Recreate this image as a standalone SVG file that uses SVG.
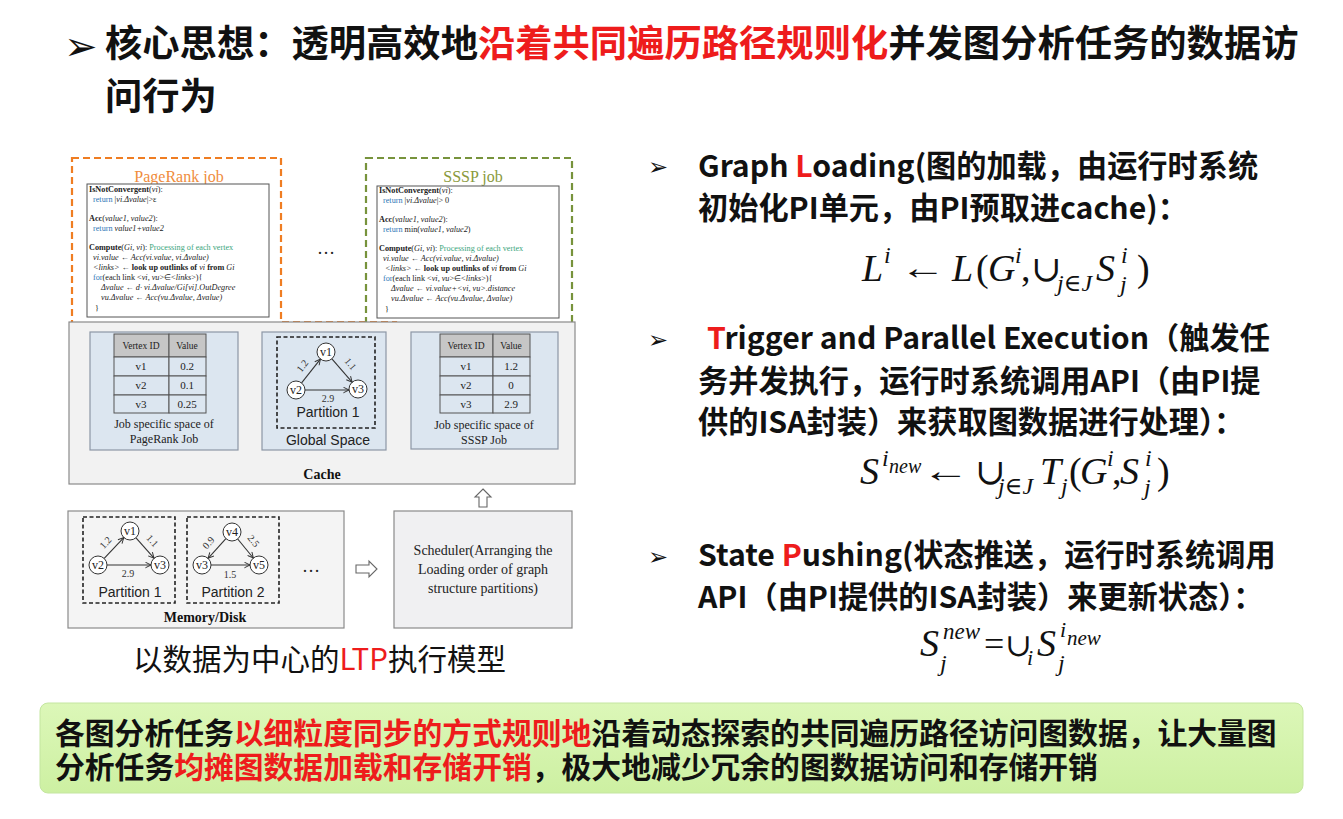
<svg xmlns="http://www.w3.org/2000/svg" width="1343" height="819" viewBox="0 0 1343 819">
  <defs>
    <style>
      .cjk { font-family: "Noto Sans CJK SC", "Noto Sans", sans-serif; }
      .title { font-size: 37.3px; font-weight: 700; fill: #111; }
      .rt { font-size: 30.2px; font-weight: 700; fill: #111; }
      .bt { font-size: 29.8px; font-weight: 700; fill: #111; }
      .red { fill: #ee1c1c; }
      .bul { font-family: "DejaVu Sans", sans-serif; fill: #111; }
      .serif { font-family: "Liberation Serif", "DejaVu Serif", serif; }
      .sans { font-family: "Liberation Sans", "Noto Sans", sans-serif; }
      .code { font-family: "Liberation Serif", serif; font-size: 8.2px; fill: #222; }
      .b { font-weight: 700; }
      .i { font-style: italic; }
      .blue { fill: #2e75b6; }
      .cm { fill: #3aa57c; }
      .math { font-family: "Liberation Serif", "DejaVu Serif", serif; fill: #111; }
      .mi { font-style: italic; }
      .dashO { fill: none; stroke: #ef7d22; stroke-width: 2.2; stroke-dasharray: 7 4; }
      .dashG { fill: none; stroke: #77933c; stroke-width: 2.2; stroke-dasharray: 7 4; }
      .dashK { fill: none; stroke: #222; stroke-width: 1.6; stroke-dasharray: 4 2.5; }
      .panel { fill: #dce6f0; stroke: #8c97a6; stroke-width: 1.2; }
      .node circle { fill: #fff; stroke: #333; stroke-width: 1; }
      .node text { font-family: "Liberation Serif", serif; font-size: 12px; fill: #222; text-anchor: middle; }
      .edge { stroke: #333; stroke-width: 1.1; fill: none; marker-end: url(#arr); }
      .elab { font-family: "Liberation Serif", serif; font-size: 10px; fill: #333; text-anchor: middle; }
      .tbl rect { stroke: #555; stroke-width: 1; }
      .tbl text { font-family: "Liberation Serif", serif; fill: #222; text-anchor: middle; }
      .hollow { fill: #fff; stroke: #666; stroke-width: 1.1; }
    </style>
    <marker id="arr" viewBox="0 0 10 10" refX="9" refY="5" markerWidth="7" markerHeight="7" orient="auto" markerUnits="userSpaceOnUse">
      <path d="M1,1 L9,5 L1,9" fill="none" stroke="#333" stroke-width="1.4"/>
    </marker>
    <linearGradient id="gbox" x1="0" y1="0" x2="0" y2="1">
      <stop offset="0" stop-color="#dcf7b8"/>
      <stop offset="1" stop-color="#cdf0a2"/>
    </linearGradient>
  </defs>

  <rect width="1343" height="819" fill="#fff"/>

  <!-- heading -->
  <g id="heading">
    <text class="bul" x="64" y="60" font-size="40">➢</text>
    <text class="cjk title" x="105" y="57">核心思想：透明高效地<tspan class="red">沿着共同遍历路径规则化</tspan>并发图分析任务的数据访</text>
    <text class="cjk title" x="105" y="110">问行为</text>
  </g>

  <!-- job regions -->
  <g id="pagerank-job">
    <path class="dashO" d="M72,158 H281 V322 H396 V463 H72 Z"/>
    <text class="serif" x="179" y="182" font-size="16" fill="#ef8c3c" text-anchor="middle">PageRank job</text>
    <rect x="87" y="184" width="182" height="133" fill="#fff" stroke="#555" stroke-width="1"/>
    <text class="code" x="89" y="192"><tspan class="b">IsNotConvergent</tspan>(<tspan class="i">vi</tspan>):</text>
    <text class="code" x="93" y="202"><tspan class="blue">return</tspan> |<tspan class="i">vi.Δvalue</tspan>|&gt;ε</text>
    <text class="code" x="89" y="221"><tspan class="b">Acc</tspan>(<tspan class="i">value1, value2</tspan>):</text>
    <text class="code" x="93" y="231"><tspan class="blue">return</tspan> <tspan class="i">value1+value2</tspan></text>
    <text class="code" x="89" y="250"><tspan class="b">Compute</tspan>(<tspan class="i">Gi, vi</tspan>): <tspan class="cm">Processing of each vertex</tspan></text>
    <text class="code i" x="93" y="260">vi.value ← Acc(vi.value, vi.Δvalue)</text>
    <text class="code" x="93" y="270"><tspan class="i">&lt;links&gt;</tspan> ← <tspan class="b">look up outlinks of</tspan> <tspan class="i">vi</tspan> <tspan class="b">from</tspan> <tspan class="i">Gi</tspan></text>
    <text class="code" x="93" y="280"><tspan class="blue">for</tspan>(each link &lt;<tspan class="i">vi, vu</tspan>&gt;∈&lt;<tspan class="i">links</tspan>&gt;){</text>
    <text class="code i" x="101" y="290">Δvalue ← d· vi.Δvalue/Gi[vi].OutDegree</text>
    <text class="code i" x="101" y="300">vu.Δvalue ← Acc(vu.Δvalue, Δvalue)</text>
    <text class="code" x="95" y="311">}</text>
  </g>

  <g id="sssp-job">
    <path class="dashG" d="M366,158 H572 V462 H254 V324 H366 Z"/>
    <text class="serif" x="473" y="182" font-size="16" fill="#8a9a3c" text-anchor="middle">SSSP job</text>
    <rect x="377" y="186" width="182" height="132" fill="#fff" stroke="#555" stroke-width="1"/>
    <text class="code" x="379" y="193"><tspan class="b">IsNotConvergent</tspan>(<tspan class="i">vi</tspan>):</text>
    <text class="code" x="383" y="203"><tspan class="blue">return</tspan> |<tspan class="i">vi.Δvalue</tspan>|&gt; 0</text>
    <text class="code" x="379" y="222"><tspan class="b">Acc</tspan>(<tspan class="i">value1, value2</tspan>):</text>
    <text class="code" x="383" y="232"><tspan class="blue">return</tspan> min(<tspan class="i">value1, value2</tspan>)</text>
    <text class="code" x="379" y="251"><tspan class="b">Compute</tspan>(<tspan class="i">Gi, vi</tspan>): <tspan class="cm">Processing of each vertex</tspan></text>
    <text class="code i" x="383" y="261">vi.value ← Acc(vi.value, vi.Δvalue)</text>
    <text class="code" x="385" y="271"><tspan class="i">&lt;links&gt;</tspan> ← <tspan class="b">look up outlinks of</tspan> <tspan class="i">vi</tspan> <tspan class="b">from</tspan> <tspan class="i">Gi</tspan></text>
    <text class="code" x="383" y="281"><tspan class="blue">for</tspan>(each link &lt;<tspan class="i">vi, vu</tspan>&gt;∈&lt;<tspan class="i">links</tspan>&gt;){</text>
    <text class="code i" x="391" y="291">Δvalue ← vi.value+&lt;vi, vu&gt;.distance</text>
    <text class="code i" x="391" y="301">vu.Δvalue ← Acc(vu.Δvalue, Δvalue)</text>
    <text class="code" x="385" y="312">}</text>
  </g>

  <text class="serif" x="326" y="254" font-size="18" text-anchor="middle" fill="#222">…</text>

  <!-- cache -->
  <g id="cache">
    <rect x="69" y="322" width="506" height="162" fill="#f2f2f2" stroke="#8a8a8a" stroke-width="1.2"/>
    <text class="serif b" x="322" y="479" font-size="14" text-anchor="middle" fill="#111">Cache</text>
  </g>

  <g id="pagerank-space">
    <rect class="panel" x="90" y="332" width="148" height="118"/>
    <g class="tbl">
      <rect x="114" y="334" width="55" height="23" fill="#c6c6c6"/>
      <rect x="169" y="334" width="37" height="23" fill="#c6c6c6"/>
      <rect x="114" y="357" width="55" height="19" fill="#dce6f0"/>
      <rect x="169" y="357" width="37" height="19" fill="#dce6f0"/>
      <rect x="114" y="376" width="55" height="19" fill="#dce6f0"/>
      <rect x="169" y="376" width="37" height="19" fill="#dce6f0"/>
      <rect x="114" y="395" width="55" height="18" fill="#dce6f0"/>
      <rect x="169" y="395" width="37" height="18" fill="#dce6f0"/>
      <text x="141" y="349" font-size="9.5">Vertex ID</text>
      <text x="187" y="349" font-size="9.5">Value</text>
      <text x="141" y="370" font-size="11">v1</text><text x="187" y="370" font-size="11">0.2</text>
      <text x="141" y="389" font-size="11">v2</text><text x="187" y="389" font-size="11">0.1</text>
      <text x="141" y="408" font-size="11">v3</text><text x="187" y="408" font-size="11">0.25</text>
    </g>
    <text class="serif" x="164" y="428" font-size="12" text-anchor="middle" fill="#222">Job specific space of</text>
    <text class="serif" x="164" y="443" font-size="12" text-anchor="middle" fill="#222">PageRank Job</text>
  </g>

  <g id="global-space">
    <rect class="panel" x="262" y="332" width="124" height="118"/>
    <rect class="dashK" x="277" y="337" width="98" height="91"/>
    <text class="sans" x="328" y="417" font-size="14" text-anchor="middle" fill="#222">Partition 1</text>
    <text class="sans" x="328" y="445" font-size="14" text-anchor="middle" fill="#222">Global Space</text>
  </g>

  <g id="sssp-space">
    <rect class="panel" x="411" y="332" width="147" height="117"/>
    <g class="tbl">
      <rect x="440" y="334" width="53" height="23" fill="#c6c6c6"/>
      <rect x="493" y="334" width="37" height="23" fill="#c6c6c6"/>
      <rect x="440" y="357" width="53" height="19" fill="#dce6f0"/>
      <rect x="493" y="357" width="37" height="19" fill="#dce6f0"/>
      <rect x="440" y="376" width="53" height="19" fill="#dce6f0"/>
      <rect x="493" y="376" width="37" height="19" fill="#dce6f0"/>
      <rect x="440" y="395" width="53" height="18" fill="#dce6f0"/>
      <rect x="493" y="395" width="37" height="18" fill="#dce6f0"/>
      <text x="466" y="349" font-size="9.5">Vertex ID</text>
      <text x="511" y="349" font-size="9.5">Value</text>
      <text x="466" y="370" font-size="11">v1</text><text x="511" y="370" font-size="11">1.2</text>
      <text x="466" y="389" font-size="11">v2</text><text x="511" y="389" font-size="11">0</text>
      <text x="466" y="408" font-size="11">v3</text><text x="511" y="408" font-size="11">2.9</text>
    </g>
    <text class="serif" x="484" y="429" font-size="12" text-anchor="middle" fill="#222">Job specific space of</text>
    <text class="serif" x="484" y="444" font-size="12" text-anchor="middle" fill="#222">SSSP Job</text>
  </g>

  <!-- memory / disk -->
  <g id="memory-disk">
    <rect x="68" y="511" width="276" height="117" fill="#f4f4f4" stroke="#8a8a8a" stroke-width="1.2"/>
    <rect class="dashK" x="83" y="517" width="92" height="86"/>
    <rect class="dashK" x="187" y="517" width="92" height="86"/>
    <text class="sans" x="130" y="597" font-size="14" text-anchor="middle" fill="#222">Partition 1</text>
    <text class="sans" x="233" y="597" font-size="14" text-anchor="middle" fill="#222">Partition 2</text>
    <text class="serif" x="311" y="572" font-size="18" text-anchor="middle" fill="#222">…</text>
    <text class="serif b" x="205" y="622" font-size="14" text-anchor="middle" fill="#111">Memory/Disk</text>
  </g>

  <g id="scheduler">
    <rect x="394" y="511" width="178" height="117" fill="#f0f0f2" stroke="#8a8a8a" stroke-width="1.2"/>
    <text class="serif" x="483" y="555" font-size="14" text-anchor="middle" fill="#222">Scheduler(Arranging the</text>
    <text class="serif" x="483" y="574" font-size="14" text-anchor="middle" fill="#222">Loading order of graph</text>
    <text class="serif" x="483" y="593" font-size="14" text-anchor="middle" fill="#222">structure partitions)</text>
  </g>

  <!-- graph vertices -->
  <g id="vertices" class="node">
    <circle cx="326" cy="352" r="9"/><text x="326" y="356">v1</text>
    <circle cx="296" cy="390" r="9"/><text x="296" y="394">v2</text>
    <circle cx="358" cy="389" r="9"/><text x="358" y="393">v3</text>
    <circle cx="130" cy="531" r="9"/><text x="130" y="535">v1</text>
    <circle cx="98" cy="565" r="9"/><text x="98" y="569">v2</text>
    <circle cx="160" cy="565" r="9"/><text x="160" y="569">v3</text>
    <circle cx="232" cy="532" r="9"/><text x="232" y="536">v4</text>
    <circle cx="202" cy="565" r="9"/><text x="202" y="569">v3</text>
    <circle cx="259" cy="565" r="9"/><text x="259" y="569">v5</text>
  </g>

  <!-- connectors -->
  <g id="connectors">
    <line class="edge" x1="301.6" y1="382.9" x2="320.4" y2="359.1"/>
    <line class="edge" x1="331.9" y1="358.8" x2="352.1" y2="382.2"/>
    <line class="edge" x1="305" y1="390" x2="349" y2="390"/>
    <text class="elab" transform="translate(305,368) rotate(-52)">1.2</text>
    <text class="elab" transform="translate(348,366) rotate(50)">1.1</text>
    <text class="elab" x="328" y="402">2.9</text>

    <line class="edge" x1="104.2" y1="558.4" x2="123.8" y2="537.6"/>
    <line class="edge" x1="136" y1="537.8" x2="154" y2="558.2"/>
    <line class="edge" x1="107" y1="565" x2="151" y2="565"/>
    <text class="elab" transform="translate(108,545) rotate(-47)">1.2</text>
    <text class="elab" transform="translate(150,543) rotate(48)">1.1</text>
    <text class="elab" x="128" y="577">2.9</text>

    <line class="edge" x1="225.9" y1="538.7" x2="208.1" y2="558.3"/>
    <line class="edge" x1="237.7" y1="539" x2="253.3" y2="558"/>
    <line class="edge" x1="211" y1="565" x2="250" y2="565"/>
    <text class="elab" transform="translate(211,545) rotate(-48)">0.9</text>
    <text class="elab" transform="translate(251,543) rotate(50)">2.5</text>
    <text class="elab" x="230" y="578">1.5</text>

    <polygon class="hollow" points="483,489 491,497 487,497 487,507 479,507 479,497 475,497"/>
    <polygon class="hollow" points="356,565 369,565 369,561 377,569 369,577 369,573 356,573"/>
  </g>

  <text class="cjk" x="133" y="670" font-size="29.5" fill="#111">以数据为中心的<tspan class="red">LTP</tspan>执行模型</text>

  <!-- right column: three stages -->
  <g id="stage-loading">
    <text class="bul" x="648" y="175" font-size="24">➢</text>
    <text class="cjk rt" x="698" y="177">Graph <tspan class="red">L</tspan>oading(图的加载，由运行时系统</text>
    <text class="cjk rt" x="698" y="219">初始化PI单元，由PI预取进cache)：</text>
    <g class="math" font-size="38">
      <text class="mi" x="862" y="281">L</text>
      <text class="mi" x="884" y="263" font-size="24">i</text>
      <text transform="translate(900,279) scale(1.35,1)" font-size="34">←</text>
      <text class="mi" x="952" y="281">L</text>
      <text x="976" y="281">(</text>
      <text class="mi" x="988" y="281">G</text>
      <text class="mi" x="1015" y="263" font-size="24">i</text>
      <text x="1021" y="281">,</text>
      <text x="1031" y="281" font-size="36">∪</text>
      <text class="mi" x="1057" y="291" font-size="24">j∈J</text>
      <text class="mi" x="1096" y="281">S</text>
      <text class="mi" x="1121" y="263" font-size="24">i</text>
      <text class="mi" x="1120" y="292" font-size="24">j</text>
      <text x="1137" y="281">)</text>
    </g>
  </g>

  <g id="stage-trigger">
    <text class="bul" x="648" y="348" font-size="24">➢</text>
    <text class="cjk rt" x="707" y="349"><tspan class="red">T</tspan>rigger and Parallel Execution（触发任</text>
    <text class="cjk rt" x="698" y="392">务并发执行，运行时系统调用API（由PI提</text>
    <text class="cjk rt" x="698" y="433">供的ISA封装）来获取图数据进行处理）：</text>
    <g class="math" font-size="38">
      <text class="mi" x="860" y="484">S</text>
      <text class="mi" x="882" y="466" font-size="24">i</text>
      <text class="mi" x="889" y="473" font-size="20">new</text>
      <text transform="translate(922,482) scale(1.4,1)" font-size="34">←</text>
      <text x="975" y="484" font-size="36">∪</text>
      <text class="mi" x="998" y="494" font-size="24">j∈J</text>
      <text class="mi" x="1040" y="484">T</text>
      <text class="mi" x="1061" y="494" font-size="24">j</text>
      <text x="1069" y="484">(</text>
      <text class="mi" x="1080" y="484">G</text>
      <text class="mi" x="1107" y="466" font-size="24">i</text>
      <text x="1112" y="484">,</text>
      <text class="mi" x="1120" y="484">S</text>
      <text class="mi" x="1145" y="466" font-size="24">i</text>
      <text class="mi" x="1144" y="495" font-size="24">j</text>
      <text x="1157" y="484">)</text>
    </g>
  </g>

  <g id="stage-pushing">
    <text class="bul" x="648" y="565" font-size="24">➢</text>
    <text class="cjk rt" x="698" y="566">State <tspan class="red">P</tspan>ushing(状态推送，运行时系统调用</text>
    <text class="cjk rt" x="698" y="608">API（由PI提供的ISA封装）来更新状态）：</text>
    <g class="math" font-size="38">
      <text class="mi" x="920" y="656">S</text>
      <text class="mi" x="943" y="639" font-size="23">new</text>
      <text class="mi" x="940" y="671" font-size="24">j</text>
      <text x="984" y="656" font-size="36">=</text>
      <text x="1005" y="656" font-size="32">∪</text>
      <text class="mi" x="1027" y="665" font-size="22">i</text>
      <text class="mi" x="1037" y="656">S</text>
      <text class="mi" x="1060" y="637" font-size="22">i</text>
      <text class="mi" x="1067" y="645" font-size="21">new</text>
      <text class="mi" x="1058" y="671" font-size="24">j</text>
    </g>
  </g>

  <!-- summary -->
  <g id="summary">
    <rect x="40" y="703" width="1263" height="90" rx="8" fill="url(#gbox)" stroke="#c4e6a0" stroke-width="1"/>
    <text class="cjk bt" x="55" y="744">各图分析任务<tspan class="red">以细粒度同步的方式规则地</tspan>沿着动态探索的共同遍历路径访问图数据，让大量图</text>
    <text class="cjk bt" x="55" y="778">分析任务<tspan class="red">均摊图数据加载和存储开销</tspan>，极大地减少冗余的图数据访问和存储开销</text>
  </g>
</svg>
